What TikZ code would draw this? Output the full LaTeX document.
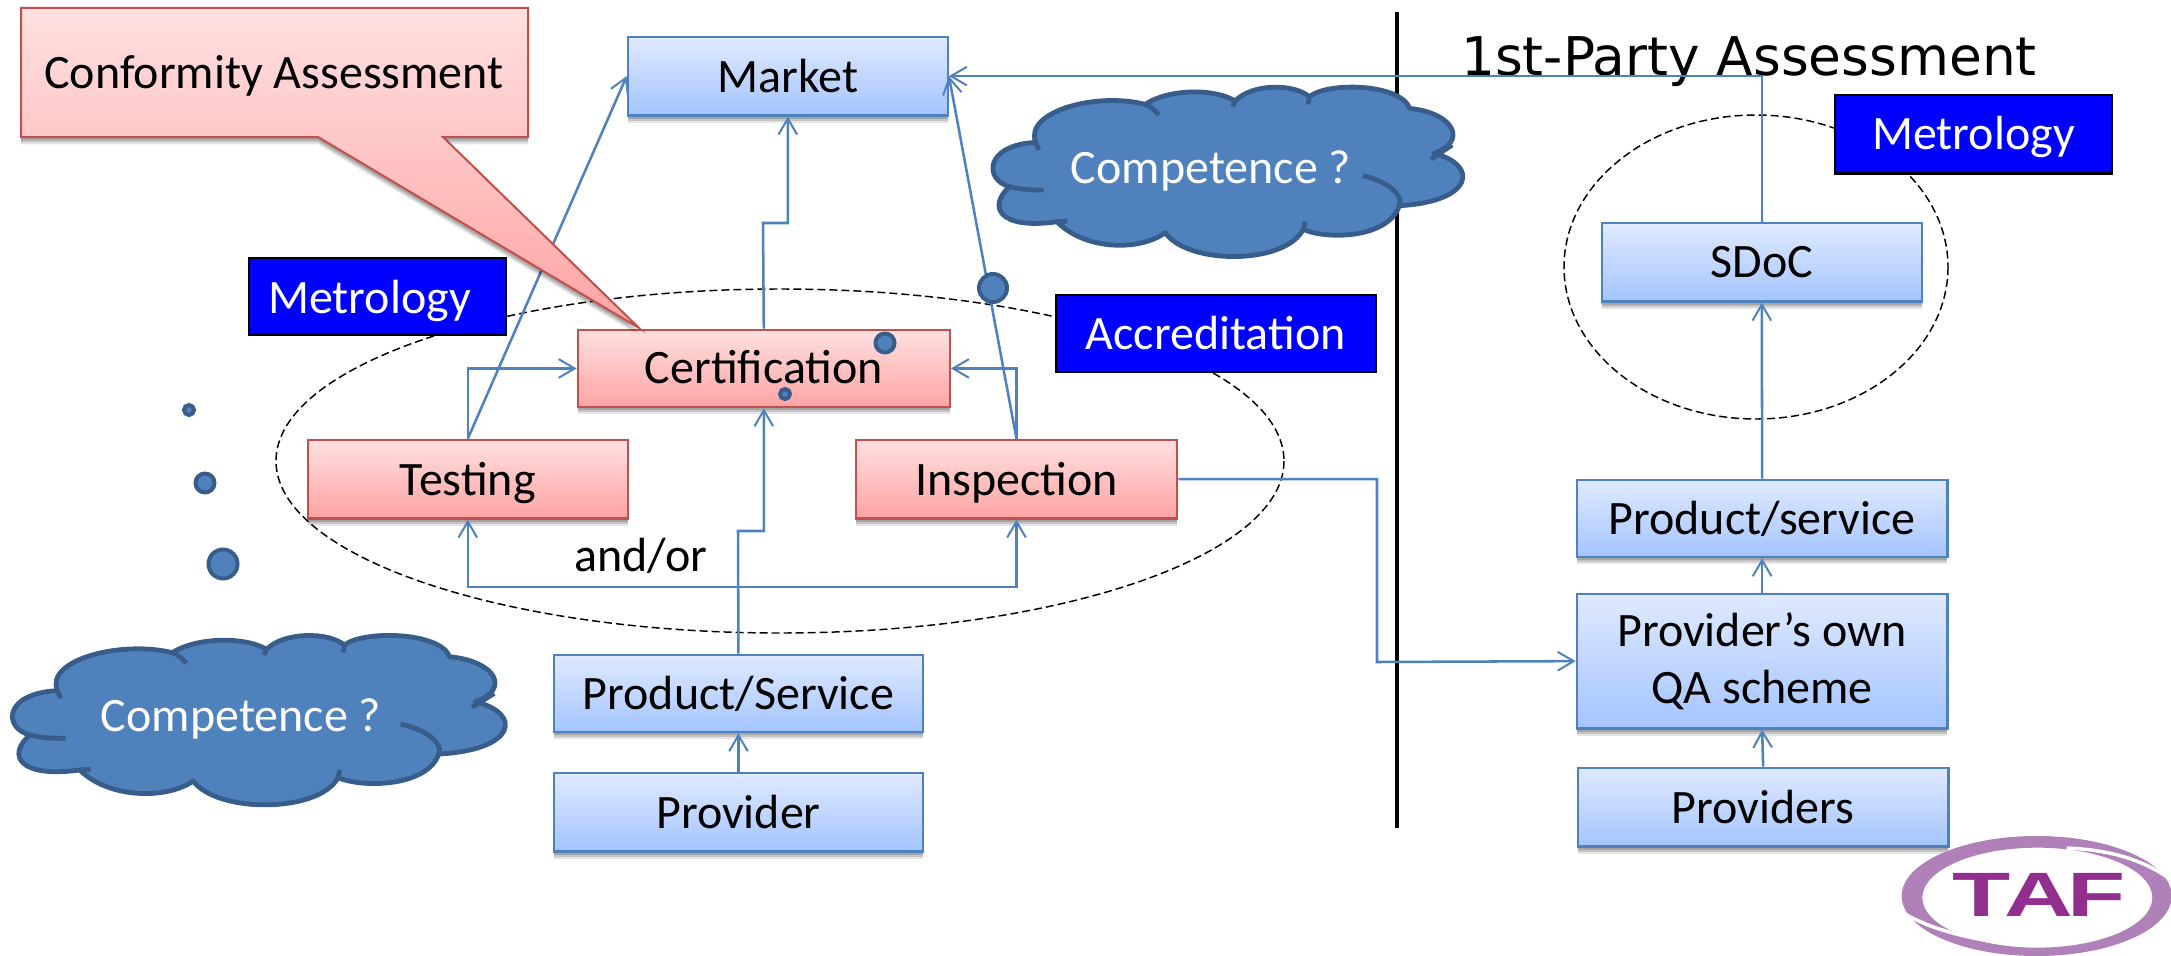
\documentclass[tikz,border=0pt]{standalone}
\usepackage{fontspec}
\setmainfont{Carlito}
\newfontfamily\titlefont{DejaVu Sans}
\newfontfamily\logofont{Liberation Sans}
\usetikzlibrary{arrows.meta,shapes.geometric}
\definecolor{bline}{HTML}{4F81BD}
\definecolor{rline}{HTML}{C0504D}
\definecolor{cloudfill}{HTML}{4F81BD}
\definecolor{cloudline}{HTML}{385D8A}
\definecolor{logolight}{HTML}{B080B8}
\definecolor{logodark}{HTML}{922F8E}
\definecolor{bluetop}{HTML}{E0EAFF}
\definecolor{bluebot}{HTML}{A3C4FF}
\definecolor{redtop}{HTML}{FFE0E0}
\definecolor{redbot}{HTML}{FFA3A3}
\newcommand{\nudgetext}[2]{\raisebox{#1}[\height][\depth]{#2}}
\tikzset{
  x=0.75pt,y=-0.75pt,
  softshadow/.style={preaction={fill=black,opacity=.10,transform canvas={yshift=-5.5pt}},
    preaction={fill=black,opacity=.14,transform canvas={yshift=-4pt}},
    preaction={fill=black,opacity=.16,transform canvas={yshift=-2.5pt}}},
  bluebox/.style={rectangle,draw=bline,line width=1.7pt,softshadow,top color=bluetop,bottom color=bluebot,
    inner sep=0pt,font=\fontsize{36}{43}\selectfont,align=center,anchor=north west,xshift=-1pt,yshift=1pt},
  redbox/.style={rectangle,draw=rline,line width=1.7pt,softshadow,top color=redtop,bottom color=redbot,
    inner sep=0pt,font=\fontsize{36}{43}\selectfont,align=center,anchor=north west,xshift=-1pt,yshift=1pt},
  tagbox/.style={rectangle,draw=black,line width=1.7pt,fill=blue,text=white,inner sep=0pt,
    font=\fontsize{36}{43}\selectfont,anchor=north west,xshift=-1pt,yshift=1pt},
  conn/.style={draw=bline,line width=1.9pt,-{Straight Barb[length=12pt,width=14pt,line width=1.5pt]}},
  dashring/.style={draw=black,line width=1.1pt,dash pattern=on 6pt off 3pt},
  dotty/.style={fill=cloudfill,draw=cloudline,line width=3pt},
  cloudshape/.style={fill=cloudfill,draw=cloudline,line width=3.6pt,line join=round},
  cloudhook/.style={draw=cloudline,line width=3.6pt},
  cloudtext/.style={text=white,font=\fontsize{36}{43}\selectfont},
}
\newcommand{\cloudbody}{%
  \path[cloudshape] (90,632) .. controls (70,540) and (190,480) .. (270,518)
    .. controls (310,470) and (385,470) .. (418,508)
    .. controls (445,455) and (515,455) .. (540,495)
    .. controls (570,450) and (690,455) .. (705,530)
    .. controls (780,545) and (800,630) .. (745,665)
    .. controls (820,700) and (810,810) .. (688,822)
    .. controls (670,920) and (570,925) .. (530,893)
    .. controls (500,1000) and (340,1000) .. (303,903)
    .. controls (260,960) and (170,955) .. (125,870)
    .. controls (30,895) and (10,825) .. (47,765)
    .. controls (5,745) and (5,640) .. (90,632) -- cycle;
  \draw[cloudhook] (90,632) -- (95,655);
  \draw[cloudhook] (270,518) .. controls (278,522) and (286,535) .. (292,550);
  \draw[cloudhook] (418,508) -- (414,525);
  \draw[cloudhook] (540,495) -- (538,518);
  \draw[cloudhook] (775,640) -- (740,682);
  \draw[cloudhook] (628,732) .. controls (670,750) and (695,790) .. (688,822);
  \draw[cloudhook] (530,893) -- (533,870);
  \draw[cloudhook] (125,870) -- (142,868);
  \draw[cloudhook] (47,765) .. controls (60,772) and (85,776) .. (103,775);
}
\begin{document}
\begin{tikzpicture}
\useasboundingbox (0,0) rectangle (2171,956);
% rings
\draw[dashring] (780,461) ellipse [x radius=504,y radius=172];
\draw[dashring] (1756,267) ellipse [x radius=192,y radius=152];
% divider
\draw[line width=3.2pt,black] (1397,12) -- (1397,828);
% title
\node[font=\titlefont\fontsize{40}{44}\selectfont,anchor=base] (title) at (1749,75) {1st-Party Assessment};
% boxes
\node[bluebox,minimum width=240pt,minimum height=59pt] (market) at (628,37) {Market};
\node[redbox,minimum width=279pt,minimum height=58pt] (cert) at (578,330) {\nudgetext{0.7pt}{Certification}};
\node[redbox,minimum width=240pt,minimum height=59pt] (testing) at (308,440) {\nudgetext{-3pt}{Testing}};
\node[redbox,minimum width=241pt,minimum height=59pt] (insp) at (856,440) {\nudgetext{-3pt}{Inspection}};
\node[bluebox,minimum width=277pt,minimum height=58pt] (ps) at (554,655) {Product/Service};
\node[bluebox,minimum width=277pt,minimum height=59pt] (prov) at (554,773) {Provider};
\node[bluebox,minimum width=240pt,minimum height=59pt] (sdoc) at (1602,223) {SDoC};
\node[bluebox,minimum width=278pt,minimum height=58pt] (ps2) at (1577,480) {Product/service};
\node[bluebox,minimum width=278pt,minimum height=101pt] (qa) at (1577,594) {Provider’s own\\QA scheme};
\node[bluebox,minimum width=278pt,minimum height=59pt] (provs) at (1578,768) {Providers};
% connectors
\draw[conn] (testing.north) -- (market.west);
\draw[conn] (testing.north) |- (cert.west);
\draw[conn] (insp.north) -- (market.east);
\draw[conn] (insp.north) |- (cert.east);
\coordinate (ca) at (763,223);
\draw[conn] (cert.north) -- (ca) -| (market.south);
\coordinate (pb) at (738,531);
\draw[conn] (ps.north) -- (pb) -| (cert.south);
\draw[conn] (prov.north) -- (ps.south);
\coordinate (mid) at (738,587);
\draw[conn] (mid) -| (testing.south);
\draw[conn] (mid) -| (insp.south);
\draw[conn] (sdoc.north) |- (market.east);
\coordinate (bend) at (1377,662);
\draw[conn] (insp.east) -| (bend) -- (qa.west);
\draw[conn] (ps2.north) -- (sdoc.south);
\draw[conn] (qa.north) -- (ps2.south);
\draw[conn] (provs.north) -- (qa.south);
% callout
\path[draw=rline,line width=1.5pt,softshadow,top color=redtop,bottom color=redbot,line join=miter]
  (21,8) -- (528,8) -- (528,137) -- (443,137) -- (639,328) -- (318,137) -- (21,137) -- cycle;
\node[font=\fontsize{36}{43}\selectfont] (calltext) at (274,76) {Conformity Assessment};
% tags
\node[tagbox,minimum width=193pt,minimum height=58pt] (m1) at (249,258) {\nudgetext{-3pt}{Metrology}\kern 12pt};
\node[tagbox,minimum width=240pt,minimum height=58pt] (acc) at (1056,295) {Accreditation};
\node[tagbox,minimum width=208pt,minimum height=59pt] (m2) at (1835,95) {\nudgetext{-2pt}{Metrology}};
% texts
\node[font=\fontsize{36}{43}\selectfont] (andor) at (641,556) {and/or};
% clouds
\begin{scope}[shift={(0,480)},x=0.4783pt,y=-0.25pt]
\cloudbody
\end{scope}
\node[cloudtext] (c1) at (241,719) {Competence ?};
\begin{scope}[shift={(981,-68.3)},x=0.456pt,y=-0.25pt]
\cloudbody
\end{scope}
\node[cloudtext] (c2) at (1211,171) {Competence ?};
% thought dots
\path[dotty] (189,410) circle [radius=5];
\path[dotty] (205,483) circle [radius=9.5];
\path[dotty] (223,564) circle [radius=14.5];
\path[dotty] (785,394) circle [radius=5];
\path[dotty] (885,343) circle [radius=9.5];
\path[dotty] (993,288) circle [radius=14];
% logo
\begin{scope}
\clip (1880,826) rectangle (2171,956);
\begin{scope}[shift={(1880,826)},x=0.25pt,y=-0.25pt]
\path[fill=logolight,even odd rule] (470,210) ellipse [x radius=405,y radius=180]
   (472,215) ellipse [x radius=345,y radius=150];
\draw[white,line width=2.6pt] (560,66) .. controls (700,72) and (800,105) .. (885,170);
\draw[white,line width=2.6pt] (60,255) .. controls (130,300) and (240,335) .. (380,352);
\end{scope}
\node[font=\logofont\bfseries\fontsize{47}{47}\selectfont,text=logodark,xscale=1.52,transform shape] (taf) at (2039,895) {T\kern-3pt A\kern-3pt F};
\end{scope}
\end{tikzpicture}
\end{document}
